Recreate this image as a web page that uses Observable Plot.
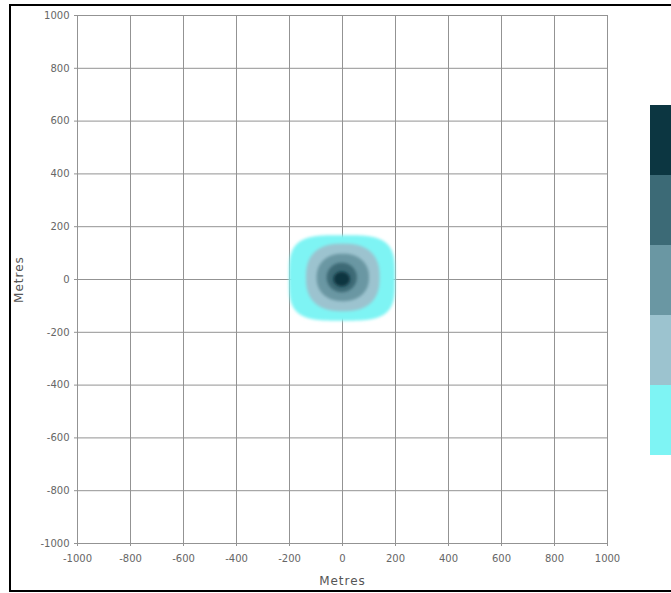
<!DOCTYPE html>
<html>
<head>
<meta charset="utf-8">
<script src="https://cdn.jsdelivr.net/npm/d3@7"></script>
<script src="https://cdn.jsdelivr.net/npm/@observablehq/plot@0.6"></script>
<style>
  html, body { margin: 0; padding: 0; background: #fff; overflow: hidden; width: 671px; height: 593px; }
  #frame { position: absolute; left: 9px; top: 4px; width: 720px; height: 584px; border: 2px solid #000; border-right: none; }
  #chart { position: absolute; left: 0; top: 0; }
  #legend { position: absolute; left: 650px; top: 103px; width: 30px; }
  #legend svg { max-width: none; }
</style>
</head>
<body>
<div id="frame"></div>
<div id="chart"></div>
<div id="legend"></div>
<script>
// Axis ticks (metres)
const ticks = [-1000, -800, -600, -400, -200, 0, 200, 400, 600, 800, 1000];
const tickLabels = ["-1000", "-800", "-600", "-400", "-200", "0", "200", "400", "600", "800", "1000"];

// Concentration bands, darkest (highest) first
const bandNames  = ["Level 5", "Level 4", "Level 3", "Level 2", "Level 1"];
const bandColors = ["#0c3641", "#3c6a76", "#6a97a3", "#9cc3cf", "#7ef4f4"];
// Outer extent of each band in metres
const bandLeft   = [-32, -58,  -96, -136, -200];
const bandRight  = [ 30,  56,  102,  142,  200];
const bandBottom = [-28, -50,  -84, -122, -158];
const bandTop    = [ 28,  62,   96,  134,  166];
// Squareness of each outline (2 = ellipse, larger = boxier)
const bandShape  = [2.0, 2.0, 2.2, 2.5, 3.6];

// Outline of a band as upper/lower boundary pairs for an area mark
function outline(i) {
  const n = bandShape[i];
  const a = (bandRight[i] - bandLeft[i]) / 2, c = (bandTop[i] - bandBottom[i]) / 2;
  const cx = (bandRight[i] + bandLeft[i]) / 2, cy = (bandTop[i] + bandBottom[i]) / 2;
  return d3.range(0, 361).map(k => {
    const t = Math.PI * k / 360, ct = Math.cos(t), st = Math.abs(Math.sin(t)) ** (2 / n);
    return {x: cx + a * Math.sign(ct) * Math.abs(ct) ** (2 / n), lo: cy - c * st, hi: cy + c * st};
  });
}

// Draw outermost band first so inner bands sit on top
const order = d3.range(bandNames.length).reverse();

const chart = Plot.plot({
  width: 671,
  height: 593,
  marginLeft: 77,
  marginRight: 64,
  marginTop: 15,
  marginBottom: 50,
  style: {fontFamily: "'DejaVu Sans', sans-serif", fontSize: "10px", color: "#666", background: "transparent"},
  x: {domain: [-1000, 1000]},
  y: {domain: [-1000, 1000]},
  marks: [
    Plot.gridX(ticks, {stroke: "#939393", strokeOpacity: 1}),
    Plot.gridY(ticks, {stroke: "#939393", strokeOpacity: 1}),
    ...order.map(i => Plot.areaY(outline(i), {x: "x", y1: "lo", y2: "hi", fill: bandColors[i], curve: "linear", className: "plume"})),
    Plot.axisX({ticks, tickFormat: (d, i) => tickLabels[i], tickSize: 3, tickPadding: 8, stroke: "#939393",
      label: "Metres", labelAnchor: "center", labelOffset: 41, labelArrow: "none", fontSize: 10}),
    Plot.axisY({ticks, tickFormat: (d, i) => tickLabels[i], tickSize: 3, tickPadding: 5, stroke: "#939393",
      label: "Metres", labelAnchor: "center", labelOffset: 63, labelArrow: "none", fontSize: 10})
  ]
});
chart.querySelectorAll("[aria-label='x-axis label'] text, [aria-label='y-axis label'] text").forEach(t => {
  t.setAttribute("font-size", "12px");
  t.setAttribute("letter-spacing", "1px");
  t.setAttribute("fill", "#555");
});

// Soften the contour band edges
const defs = d3.select(chart).insert("defs", ":first-child");
defs.append("filter").attr("id", "soft").attr("x", "-20%").attr("y", "-20%").attr("width", "140%").attr("height", "140%")
  .append("feGaussianBlur").attr("stdDeviation", 1.6);
chart.querySelectorAll(".plume").forEach(g => g.setAttribute("filter", "url(#soft)"));

document.getElementById("chart").append(chart);

// Colour key: a column of swatches, darkest at the top
const legend = Plot.plot({
  width: 30,
  height: 354,
  margin: 0,
  style: {background: "transparent", maxWidth: "none"},
  y: {type: "band", domain: bandNames, padding: 0, axis: null},
  color: {type: "ordinal", domain: bandNames, range: bandColors},
  marks: [Plot.cell(bandNames, {y: d => d, fill: d => d})]
});
document.getElementById("legend").append(legend);
</script>
</body>
</html>
